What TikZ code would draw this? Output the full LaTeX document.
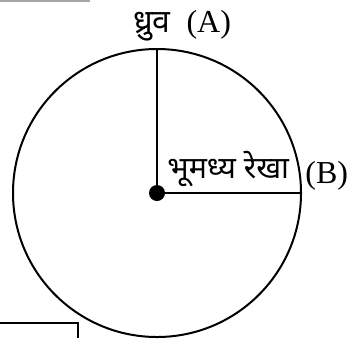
\documentclass[tikz,border=0pt]{standalone}
\usepackage{fontspec}
\usepackage{tikz}
\usetikzlibrary{positioning}
\setmainfont{Liberation Serif}
\newfontfamily\devfont[Script=Devanagari]{Noto Sans}
\tikzset{
  earthline/.style={line width=1pt, draw=black},
  earthdisc/.style={earthline, circle, inner sep=0pt, minimum size=144pt},
  centredot/.style={circle, fill=black, inner sep=0pt, minimum size=8pt},
  labeltext/.style={inner sep=0pt, font=\fontsize{16}{18}\selectfont}
}
\begin{document}
\begin{tikzpicture}[x=0.5pt, y=-0.5pt]
  \useasboundingbox (0,0) rectangle (351,338);
  % earth with pole and equator
  \coordinate (O) at (157,193);
  \node[earthdisc] (earth) at (O) {};
  \draw[earthline] (O) -- (earth.north);
  \draw[earthline] (O) -- (earth.east);
  \node[centredot] (dot) at (O) {};
  \node[labeltext] (pole) at (182,26) {{\devfont ध्रुव}\ \ (A)};
  \node[labeltext, anchor=south west, font=\fontsize{15.2}{17}\selectfont] (eq) at (167,187) {\devfont भूमध्य रेखा};
  \node[labeltext, anchor=west] (B) at (305,176) {(B)};
  % cropped frame pieces
  \draw[line width=1pt] (0,323) -| (78,338);
  \draw[black!35, line width=0.6pt] (0,1) -- (90,1);
\end{tikzpicture}
\end{document}
